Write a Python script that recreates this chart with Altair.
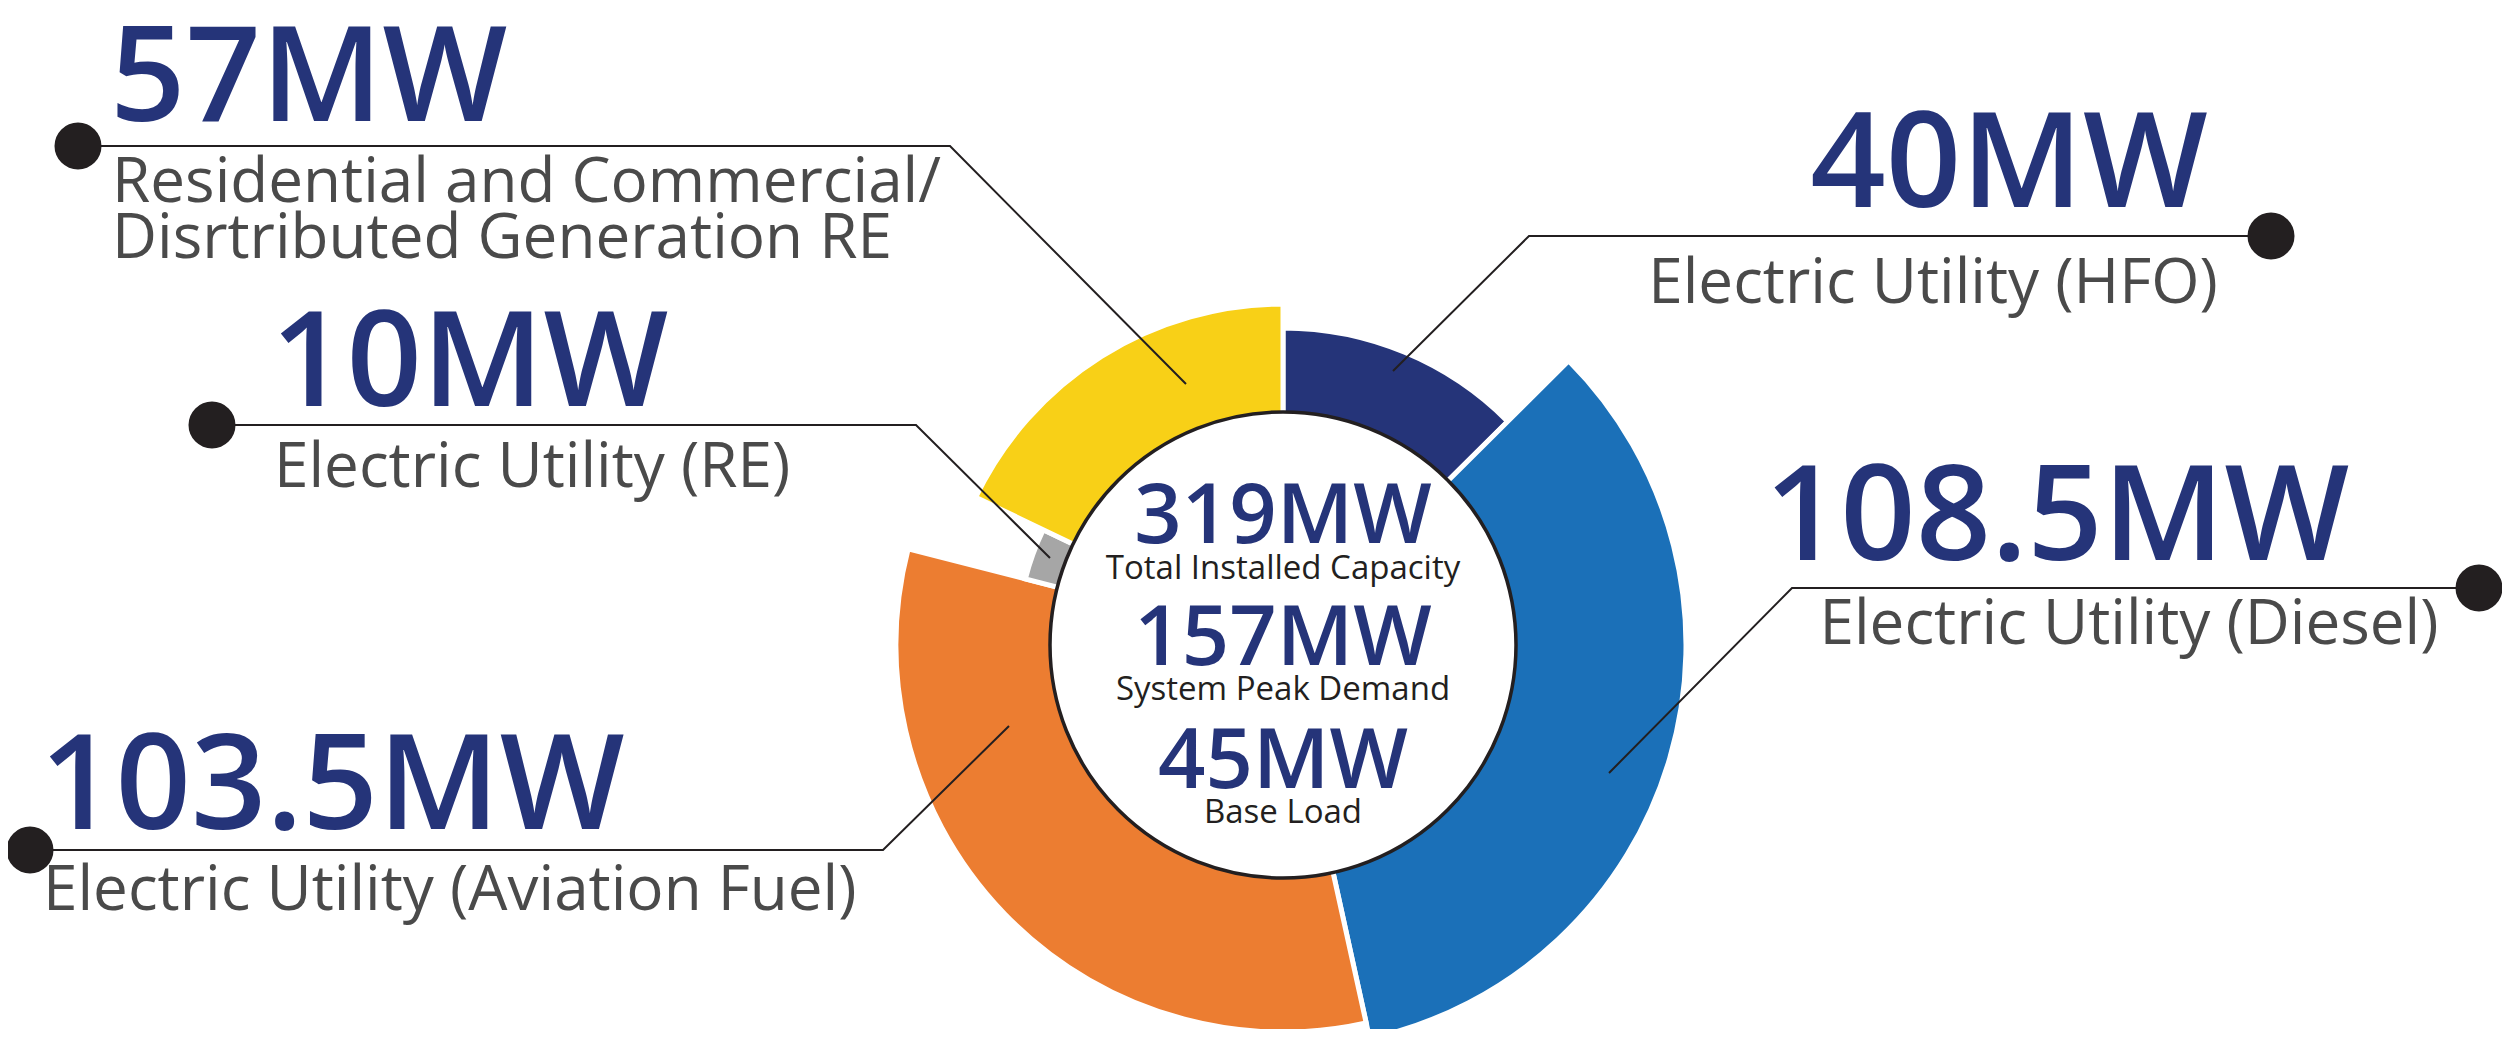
import math
import altair as alt
import pandas as pd

# ---------------- data ----------------
categories = [
    "Electric Utility (HFO)",
    "Electric Utility (Diesel)",
    "Electric Utility (Aviation Fuel)",
    "Electric Utility (RE)",
    "Residential and Commercial/\nDisrtributed Generation RE",
]
capacity_mw = [40, 108.5, 103.5, 10, 57]
capacity_labels = ["40MW", "108.5MW", "103.5MW", "10MW", "57MW"]

summary_values = ["319MW", "157MW", "45MW"]
summary_labels = ["Total Installed Capacity", "System Peak Demand", "Base Load"]

# ---------------- styles / layout ----------------
seg_colors = ["#253479", "#1b70b8", "#ec7d31", "#a6a6a6", "#f8d017"]
outer_radius = [317, 403, 387, 266, 341]
inner_radius = 225
center_x, center_y = 1283, 645
hole_radius = 233

NAVY = "#253479"
DARK = "#231f20"
GREY_TXT = "#4a4a4a"
FONT = "Open Sans"

W, H = 2494, 1021
xs = alt.Scale(domain=[8, 8 + W], nice=False, zero=False)
ys = alt.Scale(domain=[8, 8 + H], nice=False, zero=False, reverse=True)

# label layout (image pixel positions): number anchor, sub-label anchor, align
num_pos = [(2009, 207), (2057, 560), (40, 829), (271, 406), (110, 121)]
sub_pos = [(1933, 303), (2129, 644), (43, 910), (274, 487), (112, 202)]
aligns = ["center", "center", "left", "left", "left"]
# leader lines: dot, elbow, end point inside the segment
leaders = [
    [(2271, 236), (1529, 236), (1393, 371)],
    [(2479, 588), (1792, 588), (1609, 773)],
    [(30, 850), (883, 850), (1009, 726)],
    [(212, 425), (916, 425), (1050, 558)],
    [(78, 146), (950, 146), (1186, 384)],
]

# ---------------- tables ----------------
arc_df = pd.DataFrame({
    "category": categories,
    "value": capacity_mw,
    "order": list(range(len(categories))),
    "outer": outer_radius,
    "color": seg_colors,
    "cx": center_x,
    "cy": center_y,
})
total = float(sum(capacity_mw))

line_rows, dot_rows = [], []
for cat, pts in zip(categories, leaders):
    for i, (px, py) in enumerate(pts):
        line_rows.append({"category": cat, "pt": i, "x": px, "y": py})
    dot_rows.append({"category": cat, "x": pts[0][0], "y": pts[0][1]})
line_df = pd.DataFrame(line_rows)
dot_df = pd.DataFrame(dot_rows)

lab_df = pd.DataFrame({
    "category": categories,
    "num": capacity_labels,
    "nx": [p[0] for p in num_pos], "ny": [p[1] for p in num_pos],
    "sx": [p[0] for p in sub_pos], "sy": [p[1] for p in sub_pos],
    "align": aligns,
})

sum_df = pd.DataFrame({
    "value": summary_values,
    "label": summary_labels,
    "cx": center_x,
    "vy": [543, 665, 788],
    "ly": [579, 700, 823],
})

X = lambda f: alt.X(f, scale=xs, axis=None)
Y = lambda f: alt.Y(f, scale=ys, axis=None)

# ---------------- layers ----------------
arcs = alt.Chart(arc_df).transform_window(
    end="sum(value)", sort=[alt.SortField("order")], frame=[None, 0]
).transform_calculate(
    start="datum.end - datum.value"
).mark_arc(stroke="white", strokeWidth=5, innerRadius=inner_radius).encode(
    theta=alt.Theta("start:Q", scale=alt.Scale(domain=[0, total], range=[0, 2 * math.pi])),
    theta2="end:Q",
    radius=alt.Radius("outer:Q", scale=None),
    color=alt.Color("color:N", scale=None),
    x=X("cx:Q"),
    y=Y("cy:Q"),
)

hole = alt.Chart(pd.DataFrame({"x": [center_x], "y": [center_y]})).mark_point(
    shape="circle", filled=True, fill="white", stroke=DARK, strokeWidth=3.5,
    size=4 * hole_radius ** 2, opacity=1, fillOpacity=1, strokeOpacity=1,
).encode(x=X("x:Q"), y=Y("y:Q"))

lines = alt.Chart(line_df).mark_line(color=DARK, strokeWidth=2).encode(
    x=X("x:Q"), y=Y("y:Q"), detail="category:N", order="pt:Q",
)

dots = alt.Chart(dot_df).mark_point(
    shape="circle", filled=True, color=DARK, size=4 * 23.5 ** 2, opacity=1
).encode(x=X("x:Q"), y=Y("y:Q"))

def num_layer(align):
    return alt.Chart(lab_df).transform_filter(alt.datum.align == align).mark_text(
        font=FONT, fontSize=132, fontWeight=600, color=NAVY,
        align=align, baseline="alphabetic",
    ).encode(x=X("nx:Q"), y=Y("ny:Q"), text="num:N")

def sub_layer(align):
    return alt.Chart(lab_df).transform_filter(alt.datum.align == align).mark_text(
        font=FONT, fontSize=62, fontWeight=400, color=GREY_TXT,
        align=align, baseline="alphabetic", lineBreak="\n", lineHeight=56,
    ).encode(x=X("sx:Q"), y=Y("sy:Q"), text="category:N")

sum_vals = alt.Chart(sum_df).mark_text(
    font=FONT, fontSize=83, fontWeight=600, color=NAVY, align="center", baseline="alphabetic"
).encode(x=X("cx:Q"), y=Y("vy:Q"), text="value:N")

sum_labs = alt.Chart(sum_df).mark_text(
    font=FONT, fontSize=33, fontWeight=400, color=DARK, align="center", baseline="alphabetic"
).encode(x=X("cx:Q"), y=Y("ly:Q"), text="label:N")

chart = alt.layer(
    arcs, hole, lines, dots,
    num_layer("left"), num_layer("center"),
    sub_layer("left"), sub_layer("center"),
    sum_vals, sum_labs,
).properties(
    width=W, height=H, padding=0, background="white",
    autosize=alt.AutoSizeParams(type="none"),
).configure_view(stroke=None)

chart.save("out.html", embed_options={"renderer": "svg", "actions": False})
